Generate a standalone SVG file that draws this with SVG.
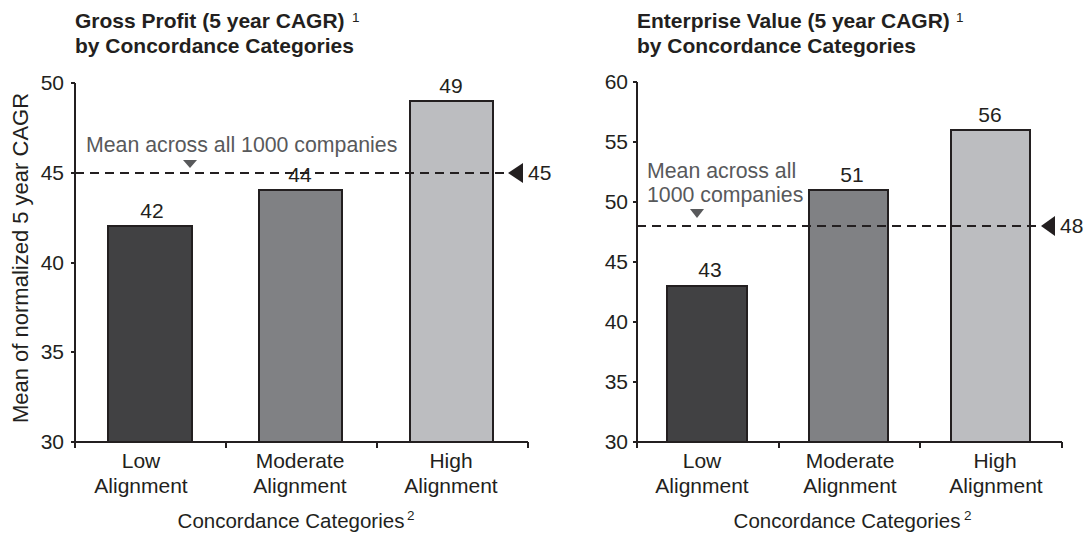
<svg xmlns="http://www.w3.org/2000/svg" width="1086" height="533" viewBox="0 0 1086 533">
<style>
text{font-family:"Liberation Sans",Arial,sans-serif;fill:#231f20}
.t{font-size:21px;font-weight:bold}
.sup{font-size:13.5px}
.n{font-size:21px}
.cc{font-size:20.5px}
.yl{font-size:22px}
.m{font-size:21.3px;fill:#58595b}
.c{text-anchor:middle}
.e{text-anchor:end}
.ax{stroke:#231f20;stroke-width:2;fill:none}
.bar{stroke:#231f20;stroke-width:2}
.b1{fill:#414143}.b2{fill:#808184}.b3{fill:#bcbdc0}
.mean{stroke:#231f20;stroke-width:2;stroke-dasharray:9 6;fill:none}
.tri{fill:#231f20}
.gtri{fill:#58595b}
</style>
<rect width="1086" height="533" fill="#fff"/>

<!-- Left chart -->
<g id="left-title">
<text class="t" x="75" y="28">Gross Profit (5 year CAGR)</text>
<text class="sup" x="352" y="22">1</text>
<text class="t" x="75" y="53">by Concordance Categories</text>
</g>
<g id="left-yaxis">
<text class="yl c" transform="translate(28,258) rotate(-90)">Mean of normalized 5 year CAGR</text>
<path class="ax" d="M75,83 V443 M71,83 H75 M71,173 H75 M71,263 H75 M71,352 H75 M71,442 H75"/>
<text class="n e" x="64" y="90">50</text>
<text class="n e" x="64" y="180">45</text>
<text class="n e" x="64" y="270">40</text>
<text class="n e" x="64" y="359">35</text>
<text class="n e" x="64" y="449">30</text>
</g>
<g id="left-bar-low">
<rect class="bar b1" x="108" y="226" width="84" height="216"/>
<text class="n c" x="152" y="218">42</text>
<text class="n c" x="141" y="468">Low</text>
<text class="n c" x="141" y="493">Alignment</text>
</g>
<g id="left-bar-moderate">
<rect class="bar b2" x="259" y="190" width="83" height="252"/>
<text class="n c" x="300" y="182">44</text>
<text class="n c" x="300" y="468">Moderate</text>
<text class="n c" x="300" y="493">Alignment</text>
</g>
<g id="left-bar-high">
<rect class="bar b3" x="410" y="101" width="83" height="341"/>
<text class="n c" x="451" y="93">49</text>
<text class="n c" x="451" y="468">High</text>
<text class="n c" x="451" y="493">Alignment</text>
</g>
<g id="left-xaxis">
<path class="ax" d="M75,442 H528 M75,442 V448 M226,442 V448 M377,442 V448 M528,442 V448"/>
<text class="cc c" x="291" y="528">Concordance Categories</text>
<text class="sup" x="407" y="520">2</text>
</g>
<g id="left-mean">
<text class="m" x="86" y="152">Mean across all 1000 companies</text>
<path class="gtri" d="M183,160 H197 L190,168 Z"/>
<path class="mean" d="M75,173 H505"/>
<path class="tri" d="M508,173 L523,163 V183 Z"/>
<text class="n" x="528" y="180">45</text>
</g>

<!-- Right chart -->
<g id="right-title">
<text class="t" x="637" y="28">Enterprise Value (5 year CAGR)</text>
<text class="sup" x="956" y="22">1</text>
<text class="t" x="637" y="53">by Concordance Categories</text>
</g>
<g id="right-yaxis">
<path class="ax" d="M637,82 V443 M633,82 H637 M633,142 H637 M633,202 H637 M633,262 H637 M633,322 H637 M633,382 H637 M633,442 H637"/>
<text class="n e" x="628" y="89">60</text>
<text class="n e" x="628" y="149">55</text>
<text class="n e" x="628" y="209">50</text>
<text class="n e" x="628" y="269">45</text>
<text class="n e" x="628" y="329">40</text>
<text class="n e" x="628" y="389">35</text>
<text class="n e" x="628" y="449">30</text>
</g>
<g id="right-bar-low">
<rect class="bar b1" x="667" y="286" width="80" height="156"/>
<text class="n c" x="710" y="277">43</text>
<text class="n c" x="702" y="468">Low</text>
<text class="n c" x="702" y="493">Alignment</text>
</g>
<g id="right-bar-moderate">
<rect class="bar b2" x="809" y="190" width="79" height="252"/>
<text class="n c" x="852" y="182">51</text>
<text class="n c" x="850" y="468">Moderate</text>
<text class="n c" x="850" y="493">Alignment</text>
</g>
<g id="right-bar-high">
<rect class="bar b3" x="951" y="130" width="79" height="312"/>
<text class="n c" x="990" y="122">56</text>
<text class="n c" x="995" y="468">High</text>
<text class="n c" x="996" y="493">Alignment</text>
</g>
<g id="right-xaxis">
<path class="ax" d="M637,442 H1062 M637,442 V448 M779,442 V448 M920,442 V448 M1062,442 V448"/>
<text class="cc c" x="847" y="528">Concordance Categories</text>
<text class="sup" x="964" y="520">2</text>
</g>
<g id="right-mean">
<text class="m" x="647" y="178">Mean across all</text>
<text class="m" x="647" y="202">1000 companies</text>
<path class="gtri" d="M690,209 H704 L697,218 Z"/>
<path class="mean" d="M637,226 H1037"/>
<path class="tri" d="M1041,226 L1055,216 V236 Z"/>
<text class="n" x="1060" y="233">48</text>
</g>
</svg>
